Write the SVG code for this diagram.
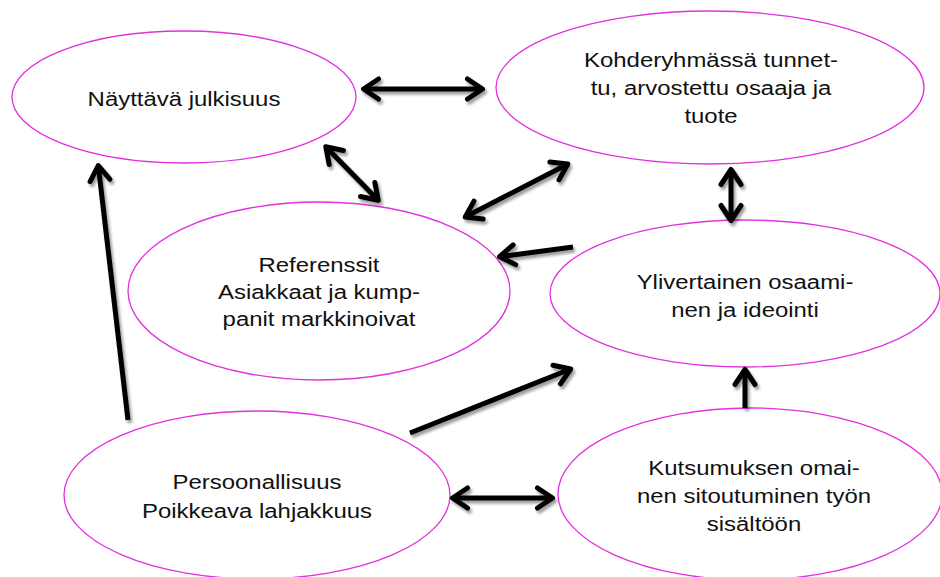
<svg xmlns="http://www.w3.org/2000/svg" width="940" height="577" viewBox="0 0 940 577">
  <style>
    .node ellipse { fill: #ffffff; stroke: #e230df; stroke-width: 1.3; }
    .node text { font-family: "Liberation Sans", Arial, Helvetica, sans-serif; font-size: 21px; fill: #111111; text-anchor: middle; }
    .conn line { stroke: #000000; stroke-width: 5; stroke-linecap: butt; fill: none; }
  </style>
  <defs>
    <filter id="shadow" x="-20%" y="-20%" width="140%" height="140%">
      <feGaussianBlur in="SourceAlpha" stdDeviation="1.6" result="blur"/>
      <feOffset in="blur" dx="2" dy="3" result="off"/>
      <feComponentTransfer in="off" result="soft">
        <feFuncA type="linear" slope="0.4"/>
      </feComponentTransfer>
      <feMerge>
        <feMergeNode in="soft"/>
        <feMergeNode in="SourceGraphic"/>
      </feMerge>
    </filter>
    <marker id="head" markerUnits="userSpaceOnUse" viewBox="-22 -15 30 30" markerWidth="30" markerHeight="30" refX="-2" refY="0" orient="auto-start-reverse">
      <path d="M -15,-10 L 0,0 L -15,10" fill="none" stroke="#000000" stroke-width="5" stroke-linecap="round" stroke-linejoin="round"/>
    </marker>
  </defs>

  <rect x="0" y="0" width="940" height="577" fill="#ffffff"/>

  <g id="nayttava-julkisuus" class="node">
    <ellipse cx="184" cy="97" rx="172" ry="66"/>
    <g transform="translate(184,0) scale(1.14,1)">
      <text x="0" y="106">Näyttävä julkisuus</text>
    </g>
  </g>

  <g id="kohderyhmassa-tunnettu" class="node">
    <ellipse cx="710" cy="87.5" rx="214" ry="76.5"/>
    <g transform="translate(711,0) scale(1.14,1)">
      <text x="0" y="67">Kohderyhmässä tunnet-</text>
      <text x="0" y="95">tu, arvostettu osaaja ja</text>
      <text x="0" y="123">tuote</text>
    </g>
  </g>

  <g id="referenssit" class="node">
    <ellipse cx="319" cy="291" rx="191" ry="89"/>
    <g transform="translate(319,0) scale(1.14,1)">
      <text x="0" y="272">Referenssit</text>
      <text x="0" y="299">Asiakkaat ja kump-</text>
      <text x="0" y="326">panit markkinoivat</text>
    </g>
  </g>

  <g id="ylivertainen-osaaminen" class="node">
    <ellipse cx="745" cy="293.5" rx="195" ry="73.5"/>
    <g transform="translate(745,0) scale(1.14,1)">
      <text x="0" y="289">Ylivertainen osaami-</text>
      <text x="0" y="317">nen ja ideointi</text>
    </g>
  </g>

  <g id="persoonallisuus" class="node">
    <ellipse cx="257" cy="495" rx="193" ry="84"/>
    <g transform="translate(257,0) scale(1.14,1)">
      <text x="0" y="489">Persoonallisuus</text>
      <text x="0" y="518">Poikkeava lahjakkuus</text>
    </g>
  </g>

  <g id="kutsumuksen-sitoutuminen" class="node">
    <ellipse cx="750" cy="494" rx="192" ry="86"/>
    <g transform="translate(754,0) scale(1.14,1)">
      <text x="0" y="475">Kutsumuksen omai-</text>
      <text x="0" y="503">nen sitoutuminen työn</text>
      <text x="0" y="531">sisältöön</text>
    </g>
  </g>

  <g id="connectors" class="conn" filter="url(#shadow)">
    <line x1="365.5" y1="89" x2="480.5" y2="89" marker-start="url(#head)" marker-end="url(#head)"/>
    <line x1="327.2" y1="148.2" x2="376.8" y2="198.8" marker-start="url(#head)" marker-end="url(#head)"/>
    <line x1="467" y1="216" x2="566" y2="165" marker-start="url(#head)" marker-end="url(#head)"/>
    <line x1="731" y1="171.5" x2="731" y2="218.5" marker-start="url(#head)" marker-end="url(#head)"/>
    <line x1="573" y1="247" x2="501.5" y2="256.4" marker-end="url(#head)"/>
    <line x1="128" y1="420" x2="98.5" y2="167.5" marker-end="url(#head)"/>
    <line x1="410" y1="433" x2="568.8" y2="369.7" marker-end="url(#head)"/>
    <line x1="454.5" y1="498" x2="550.5" y2="498" marker-start="url(#head)" marker-end="url(#head)"/>
    <line x1="745" y1="408" x2="745" y2="371.5" marker-end="url(#head)"/>
  </g>
</svg>
